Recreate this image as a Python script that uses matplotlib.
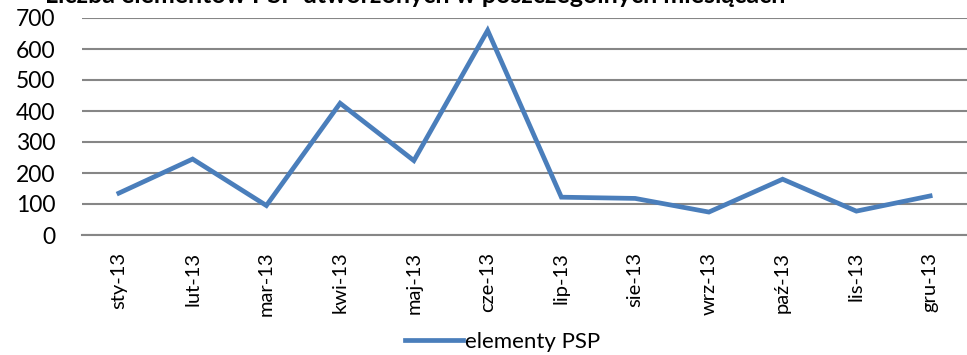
import matplotlib
matplotlib.use("Agg")
import matplotlib.pyplot as plt

months = ["sty-13", "lut-13", "mar-13", "kwi-13", "maj-13", "cze-13",
          "lip-13", "sie-13", "wrz-13", "paź-13", "lis-13", "gru-13"]
values = [135, 245, 95, 425, 240, 660, 122, 118, 74, 180, 77, 126]
series_name = "elementy PSP"
title = "Liczba elementów PSP utworzonych w poszczególnych miesiącach"
yticks = [0, 100, 200, 300, 400, 500, 600, 700]

plt.rcParams['font.family'] = ['Lato', 'DejaVu Sans']

W, H = 967, 355
fig = plt.figure(figsize=(W / 100, H / 100), dpi=100)
left, right, top, bottom = 82, 967, 18, 235
ax = fig.add_axes([left / W, (H - bottom) / H, (right - left) / W, (bottom - top) / H])

x = list(range(len(months)))
line, = ax.plot(x, values, color="#4a7ebb", lw=3.4, solid_joinstyle="miter", label=series_name)
ax.set_xlim(-0.5, len(months) - 0.5)
ax.set_ylim(0, 700)
ax.set_yticks(yticks)
ax.set_yticklabels([str(v) for v in yticks], fontsize=16.5)
ax.set_xticks(x)
ax.set_xticklabels(months, rotation=90, fontsize=14.5)
ax.tick_params(axis='x', length=0, pad=12)
ax.tick_params(axis='y', length=0, pad=19)
ax.grid(axis='y', color="#868686", lw=1.5)
ax.set_axisbelow(True)
for s in ax.spines.values():
    s.set_visible(False)
ax.spines['bottom'].set_visible(True)
ax.spines['bottom'].set_color("#868686")
ax.spines['bottom'].set_linewidth(1.5)

fig.text(415 / W, (H - 3) / H, title, ha="center", va="baseline", fontsize=18, fontweight="bold")

leg = fig.legend(handles=[line], loc="center", bbox_to_anchor=(503 / W, (H - 342) / H),
                 frameon=False, fontsize=16, handlelength=2.6, handletextpad=0.1,
                 borderpad=0, borderaxespad=0)

fig.savefig("out.png", dpi=100)
